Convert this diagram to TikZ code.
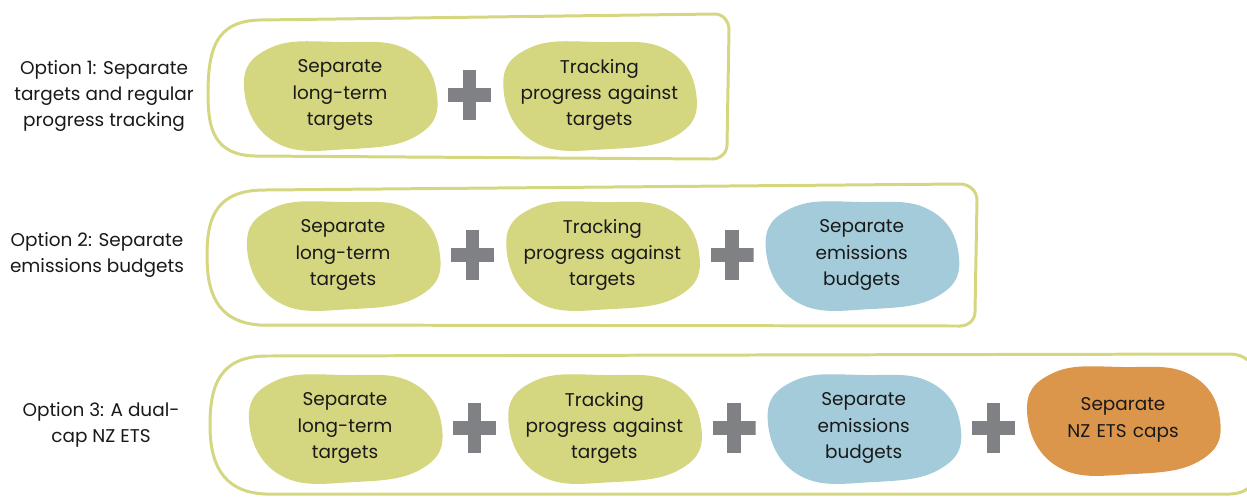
\documentclass[tikz,border=0pt]{standalone}
\usepackage{fontspec}
\setmainfont{Poppins}
\usetikzlibrary{positioning, backgrounds}

\definecolor{blobgreen}{RGB}{212,214,128}
\definecolor{blobblue}{RGB}{163,203,218}
\definecolor{bloborange}{RGB}{220,150,76}
\definecolor{plusgray}{RGB}{128,129,132}

\begin{document}
\begin{tikzpicture}[
        x=0.02cm, y=-0.02cm,
        node distance=0.55cm,
        every node/.style={font=\fontsize{10.5}{15}\selectfont, text=black!90},
        optlabel/.style={align=center},
        blobtext/.style={align=center, text width=3.2cm, inner sep=0pt},
        plus/.style={minimum width=0.86cm, minimum height=1cm, inner sep=0pt,
            path picture={
                \fill[plusgray] ([yshift=-0.14cm]path picture bounding box.west) rectangle ([yshift=0.14cm]path picture bounding box.east);
                \fill[plusgray] ([xshift=-0.135cm]path picture bounding box.north) rectangle ([xshift=0.135cm]path picture bounding box.south);
            }},
        frame/.style={draw=blobgreen, line width=1.7pt, line join=round},
        blob/.pic={\path[pic actions] plot[smooth cycle, tension=0.75] coordinates {(-96,-8) (-70,-47) (0,-53) (68,-45) (97,0) (78,40) (10,54) (-65,47)};}
        ]

        \useasboundingbox (0,0) rectangle (1247,498);

        % option 1
        \node (opt1) [optlabel] at (104,96) {Option 1: Separate\\targets and regular\\progress tracking};
        \node (r1a) [blobtext] at (340,95) {Separate\\long-term\\targets};
        \node (r1p1) [plus, right=of r1a] {};
        \node (r1b) [blobtext, right=of r1p1] {Tracking\\progress against\\targets};

        % option 2
        \node (opt2) [optlabel] at (97,255) {Option 2: Separate\\emissions budgets};
        \node (r2a) [blobtext] at (343,255) {Separate\\long-term\\targets};
        \node (r2p1) [plus, right=of r2a] {};
        \node (r2b) [blobtext, right=of r2p1] {Tracking\\progress against\\targets};
        \node (r2p2) [plus, right=of r2b] {};
        \node (r2c) [blobtext, right=of r2p2] {Separate\\emissions\\budgets};

        % option 3
        \node (opt3) [optlabel] at (101,425) {Option 3: A dual-\\cap NZ ETS};
        \node (r3a) [blobtext] at (345,428) {Separate\\long-term\\targets};
        \node (r3p1) [plus, right=of r3a] {};
        \node (r3b) [blobtext, right=of r3p1] {Tracking\\progress against\\targets};
        \node (r3p2) [plus, right=of r3b] {};
        \node (r3c) [blobtext, right=of r3p2] {Separate\\emissions\\budgets};
        \node (r3p3) [plus, right=of r3c] {};
        \node (r3d) [blobtext, right=of r3p3, yshift=0.16cm] {Separate\\NZ ETS caps};

        % blobs behind the texts
        \begin{scope}[on background layer]
            \foreach \n/\c in {r1a/blobgreen, r1b/blobgreen, r2a/blobgreen, r2b/blobgreen, r2c/blobblue,
                r3a/blobgreen, r3b/blobgreen, r3c/blobblue, r3d/bloborange}
                \pic[fill=\c] at (\n) {blob};
        \end{scope}

        % frames round the options
        \draw [frame] (260,20) -- (715,14) to[out=0,in=90] (729,30) -- (727,145) to[out=-90,in=0] (712,159)
            -- (255,156) .. controls (215,155) and (208,130) .. (208,95) .. controls (208,50) and (215,21) .. (260,20) -- cycle;
        \draw [frame] (265,190) -- (960,184) to[out=0,in=90] (977,200) -- (975,312) to[out=-90,in=0] (960,326)
            -- (260,325) .. controls (215,322) and (207,290) .. (207,255) .. controls (207,215) and (218,190) .. (265,190) -- cycle;
        \draw [frame] (265,356) -- (1230,354) to[out=0,in=90] (1255,375) -- (1255,475) to[out=-90,in=0] (1230,494)
            -- (265,494) .. controls (220,492) and (210,460) .. (210,425) .. controls (210,385) and (220,357) .. (265,356) -- cycle;

    \end{tikzpicture}
\end{document}
